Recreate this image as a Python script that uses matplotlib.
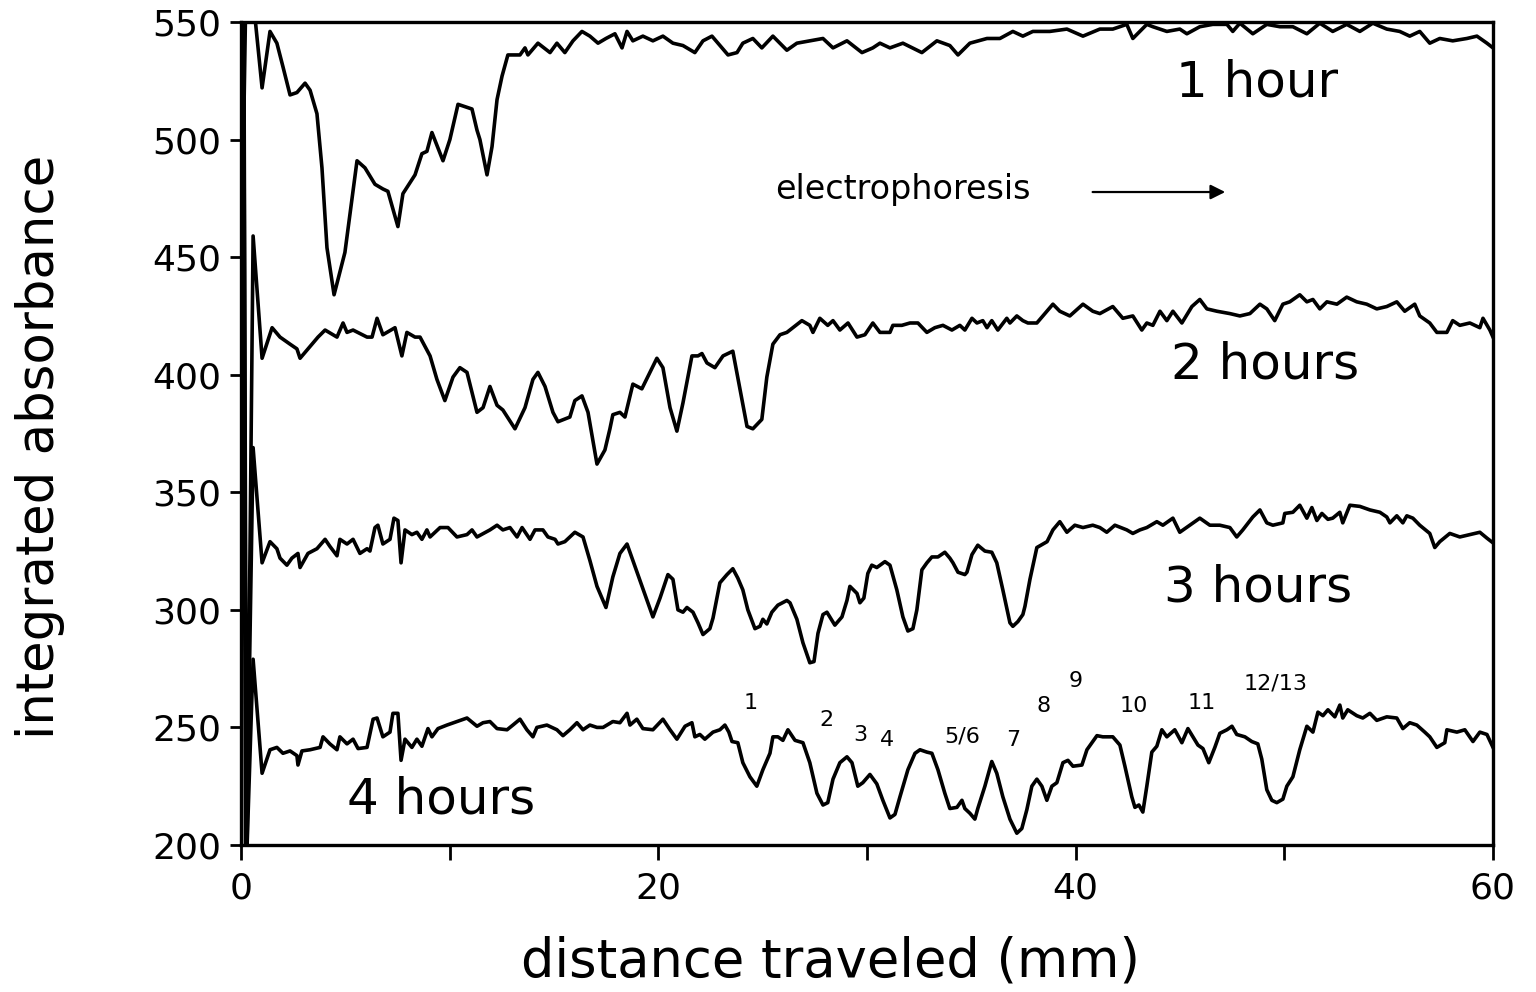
import matplotlib
matplotlib.use("Agg")
import matplotlib.pyplot as plt

# ---- scan data: distance traveled (mm) vs integrated absorbance ----
x_1h = [0.0, 0.12, 0.3, 0.55, 0.67, 1.01, 1.39, 1.72, 2.01, 2.35, 2.68, 3.07, 3.31, 3.64, 3.88, 4.12,
        4.46, 4.98, 5.56, 5.94, 6.42, 6.80, 7.04, 7.52, 7.76, 8.34, 8.67, 8.91, 9.15, 9.68, 10.01,
        10.40, 11.07, 11.31, 11.45, 11.79, 12.03, 12.27, 12.51, 12.79, 13.37, 13.61, 13.75, 14.23,
        14.81, 15.14, 15.52, 15.91, 16.34, 16.72, 17.11, 17.49, 17.92, 18.26, 18.50, 18.78, 19.26,
        19.74, 20.22, 20.70, 21.18, 21.75, 22.14, 22.57, 22.86, 23.34, 23.77, 24.05, 24.53, 24.96,
        25.49, 26.16, 26.64, 27.26, 27.89, 28.37, 29.04, 29.76, 30.28, 30.62, 31.10, 31.72, 32.63,
        33.35, 33.97, 34.36, 34.93, 35.75, 36.37, 36.99, 37.47, 37.95, 38.76, 39.58, 40.35, 41.16,
        41.78, 42.45, 42.74, 43.41, 43.70, 44.37, 44.99, 45.33, 45.95, 46.57, 47.25, 47.53, 47.87,
        48.49, 49.16, 49.79, 50.41, 51.08, 51.70, 52.32, 52.99, 53.62, 54.24, 54.91, 55.53, 56.01,
        56.49, 56.97, 57.45, 58.07, 58.75, 59.23, 59.71, 60.0]
y_1h = [492, 500, 600, 600, 552, 522, 546, 541, 531, 519, 520, 524, 521, 511, 488, 454,
        434, 452, 491, 488, 481, 479, 478, 463, 477, 485, 494, 495, 503, 491, 500,
        515, 513, 504, 500, 485, 497, 517, 527, 536, 536, 539, 536, 541,
        537, 541, 537, 542, 546, 544, 541, 543, 545, 539, 546, 542, 544,
        542, 544, 541, 540, 537, 542, 544, 541, 536, 537, 541, 543, 539,
        544, 538, 541, 542, 543, 539, 542, 537, 539, 541, 539, 541, 537,
        542, 540, 536, 541, 543, 543, 546, 544, 546, 546, 547, 544, 547,
        547, 549, 543, 549, 548, 546, 547, 545, 548, 549, 549, 546, 549.5,
        545, 549, 548, 548, 545, 549.5, 546, 549, 546, 549.5, 547, 546, 544,
        546, 541, 543, 542, 543, 544, 541, 539]

x_2h = [0.0, 0.12, 0.27, 0.58, 1.01, 1.49, 1.87, 2.35, 2.68, 2.83, 3.21, 3.69, 4.03, 4.60, 4.89, 5.08,
        5.37, 6.04, 6.28, 6.52, 6.80, 7.38, 7.71, 7.95, 8.34, 8.58, 9.06, 9.39, 9.77, 10.16, 10.49,
        10.83, 11.31, 11.60, 11.93, 12.27, 12.55, 13.13, 13.61, 13.99, 14.23, 14.57, 14.95, 15.19,
        15.76, 16.00, 16.34, 16.63, 17.06, 17.44, 17.68, 17.82, 18.16, 18.40, 18.78, 19.21, 19.93,
        20.22, 20.56, 20.89, 21.18, 21.61, 21.90, 22.09, 22.33, 22.71, 23.10, 23.57, 23.91, 24.25,
        24.53, 24.96, 25.20, 25.49, 25.83, 26.16, 26.45, 26.88, 27.26, 27.41, 27.74, 28.12, 28.37,
        28.70, 29.09, 29.52, 29.90, 30.28, 30.62, 31.10, 31.24, 31.67, 32.06, 32.44, 32.87, 33.25,
        33.64, 34.07, 34.45, 34.69, 35.03, 35.27, 35.55, 35.75, 35.98, 36.27, 36.70, 36.85, 37.18,
        37.47, 37.71, 38.14, 38.91, 39.24, 39.72, 40.35, 40.82, 41.16, 41.78, 42.26, 42.74, 43.17,
        43.41, 43.70, 44.04, 44.37, 44.66, 45.09, 45.57, 45.95, 46.29, 46.77, 47.39, 47.87, 48.35,
        48.83, 49.16, 49.54, 49.93, 50.26, 50.74, 51.08, 51.37, 51.70, 52.04, 52.52, 52.99, 53.47,
        53.95, 54.43, 54.91, 55.39, 55.77, 56.25, 56.49, 56.97, 57.31, 57.79, 58.07, 58.41, 58.89,
        59.37, 59.52, 59.85, 60.0]
y_2h = [470, 600, 180, 459, 407, 420, 416, 413, 411, 407, 411, 416, 419, 416, 422, 418,
        419, 416, 416, 424, 417, 420, 408, 418, 416, 416, 408, 398, 389, 399, 403,
        401, 384, 386, 395, 387, 385, 377, 386, 398, 401, 395, 384, 380,
        382, 389, 391, 384, 362, 368, 377, 383, 384, 382, 396, 394, 407,
        403, 386, 376, 388, 408, 408, 409, 405, 403, 408, 410, 394, 378,
        377, 381, 399, 413, 417, 418, 420, 423, 421, 418, 424, 421, 423,
        419, 422, 416, 417, 422, 418, 418, 421, 421, 422, 422, 418, 420,
        421, 419, 421, 419, 424, 422, 423, 420, 423, 419, 424, 422, 425,
        423, 422, 422, 430, 427, 425, 430, 427, 426, 429, 424, 425, 419,
        422, 421, 427, 423, 427, 422, 429, 432, 428, 427, 426, 425, 426,
        430, 428, 423, 430, 431, 434, 431, 432, 428, 431, 430, 433, 431,
        430, 428, 429, 431, 427, 430, 425, 422, 418, 418, 423, 421, 422,
        420, 424, 419, 416]

x_3h = [0.0, 0.12, 0.25, 0.58, 1.01, 1.39, 1.72, 1.87, 2.20, 2.44, 2.73, 2.83, 3.21, 3.64, 4.03, 4.26,
        4.60, 4.74, 5.08, 5.37, 5.70, 6.04, 6.18, 6.42, 6.56, 6.80, 7.14, 7.33, 7.52, 7.67, 7.86,
        8.19, 8.43, 8.67, 8.91, 9.06, 9.54, 9.92, 10.35, 10.83, 11.07, 11.31, 11.93, 12.27, 12.55,
        12.89, 13.23, 13.47, 13.85, 14.09, 14.47, 14.71, 15.05, 15.19, 15.52, 15.76, 16.00, 16.39,
        16.72, 17.06, 17.49, 17.82, 18.16, 18.50, 18.78, 19.26, 19.74, 20.08, 20.46, 20.70, 20.94,
        21.18, 21.37, 21.66, 21.90, 22.14, 22.47, 22.62, 22.95, 23.29, 23.57, 23.81, 24.05, 24.29,
        24.63, 24.87, 25.01, 25.20, 25.44, 25.73, 26.16, 26.31, 26.64, 26.93, 27.26, 27.46, 27.65,
        27.89, 28.08, 28.46, 28.80, 29.04, 29.18, 29.52, 29.66, 29.85, 30.04, 30.23, 30.47, 30.86,
        31.10, 31.43, 31.72, 31.96, 32.20, 32.39, 32.63, 32.87, 33.11, 33.40, 33.73, 33.97, 34.12,
        34.36, 34.69, 34.79, 35.03, 35.31, 35.65, 35.98, 36.22, 36.51, 36.85, 36.99, 37.23, 37.47,
        37.57, 37.81, 38.14, 38.63, 38.91, 39.24, 39.58, 39.96, 40.35, 40.82, 41.16, 41.49, 41.88,
        42.45, 42.74, 43.08, 43.41, 43.89, 44.18, 44.66, 44.99, 45.47, 45.95, 46.43, 46.91, 47.39,
        47.72, 48.01, 48.49, 48.83, 49.16, 49.45, 49.93, 50.02, 50.41, 50.74, 51.08, 51.32, 51.56,
        51.80, 52.09, 52.32, 52.66, 52.80, 53.14, 53.62, 54.10, 54.58, 54.91, 55.06, 55.39, 55.68,
        55.87, 56.16, 56.49, 56.97, 57.21, 57.45, 57.93, 58.41, 58.89, 59.37, 59.71, 60.0]
y_3h = [340, 580, 190, 369, 320, 329, 326, 322, 319, 322, 324, 318, 324, 326, 330, 327,
        323, 330, 328, 330, 324, 326, 325, 335, 336, 328, 330, 339, 338, 320, 334,
        332, 333, 330, 334, 331, 335, 335, 331, 332, 334, 331, 334, 336, 334,
        335, 331, 335, 330, 334, 334, 331, 330, 328, 329, 331, 333, 331,
        321, 310, 301, 314, 324, 328, 321, 309, 297, 305, 315, 313, 300,
        299, 301, 299, 294.5, 289.5, 292, 296.5, 311.5, 315, 317.5, 313.5, 308.5, 300,
        292, 293, 296, 294, 299, 302, 304, 303, 296, 286, 277.5, 278, 290,
        298, 299, 293.5, 297, 304, 310, 307, 303, 305, 315.5, 319, 318, 320.5,
        319, 308.5, 297, 291, 292, 300, 317, 320, 322.5, 322.5, 324.5, 322, 320,
        316, 315, 316, 323.5, 327.5, 325, 324.5, 320, 308.5, 294.5, 293, 295, 298,
        301.5, 313, 326.5, 329, 334, 337.5, 333, 336, 335, 336, 335, 333, 336,
        334, 332.5, 334, 335, 337.5, 336, 339, 333, 336, 339, 336, 336, 335,
        331, 334, 339.5, 342.5, 337, 336, 337, 341, 341.5, 344.5, 339, 343.5, 338,
        341, 338.5, 339, 341.5, 337, 344.5, 344, 342.5, 341.5, 339.5, 337, 340, 337,
        340, 339, 336, 332.5, 326.5, 329, 332.5, 331, 332, 333, 330.5, 328.5]

x_4h = [0.0, 0.10, 0.22, 0.58, 1.01, 1.39, 1.72, 2.01, 2.35, 2.68, 2.73, 2.92, 3.31, 3.79, 3.93, 4.26,
        4.60, 4.74, 5.08, 5.37, 5.61, 6.04, 6.33, 6.52, 6.80, 7.14, 7.28, 7.52, 7.67, 7.86, 8.19,
        8.43, 8.67, 8.96, 9.15, 9.44, 9.87, 10.35, 10.83, 11.31, 11.60, 11.93, 12.27, 12.75, 13.03,
        13.37, 13.70, 13.99, 14.18, 14.66, 15.14, 15.43, 15.76, 16.10, 16.39, 16.72, 17.06, 17.35,
        17.82, 18.16, 18.50, 18.64, 18.97, 19.26, 19.74, 20.22, 20.56, 20.89, 21.28, 21.61, 21.75,
        21.99, 22.23, 22.62, 22.95, 23.19, 23.38, 23.53, 23.81, 24.05, 24.39, 24.72, 25.01, 25.35,
        25.49, 25.73, 25.97, 26.21, 26.55, 26.93, 27.26, 27.60, 27.89, 28.12, 28.37, 28.70, 29.04,
        29.28, 29.56, 29.80, 30.14, 30.47, 30.76, 31.10, 31.34, 31.58, 31.96, 32.30, 32.54, 32.87,
        33.11, 33.40, 33.73, 33.97, 34.31, 34.55, 34.69, 34.93, 35.17, 35.31, 35.65, 35.98, 36.22,
        36.51, 36.85, 37.18, 37.42, 37.66, 37.90, 38.14, 38.38, 38.62, 38.86, 39.10, 39.39, 39.63,
        39.87, 40.30, 40.54, 41.02, 41.30, 41.78, 42.12, 42.36, 42.69, 42.84, 43.03, 43.22, 43.41,
        43.65, 43.89, 44.13, 44.37, 44.75, 45.09, 45.38, 45.62, 45.86, 46.10, 46.38, 46.67, 46.91,
        47.25, 47.49, 47.72, 48.11, 48.44, 48.73, 48.92, 49.16, 49.40, 49.64, 49.93, 50.12, 50.41,
        50.74, 51.08, 51.37, 51.61, 51.85, 52.09, 52.42, 52.66, 52.80, 53.04, 53.47, 53.76, 54.10,
        54.43, 54.91, 55.39, 55.68, 56.01, 56.35, 56.73, 56.97, 57.31, 57.69, 57.79, 58.27, 58.65,
        59.04, 59.37, 59.71, 60.0]
y_4h = [250, 570, 180, 279, 230.5, 240.5, 241.5, 239, 240, 238, 234, 240, 240.5, 241.5, 246, 243,
        240.5, 246, 243, 245, 241, 241.5, 253.5, 254, 246, 248, 256, 256, 236, 245, 241.5,
        245, 242, 249.5, 246, 249.5, 251, 252.5, 254, 250.5, 252, 252.5, 249.5, 249, 251,
        253.5, 249, 246, 250, 251, 249, 246.5, 249, 252, 249, 251, 250, 250,
        252.5, 252, 256, 251, 253.5, 249.5, 249, 253.5, 249, 245, 250.5, 252, 246,
        247, 245, 248, 249, 251, 248, 244, 243.5, 235, 229, 225, 232, 239,
        246, 246, 244.5, 249, 244.5, 243.5, 235, 222, 217, 218, 228, 235, 237.5,
        235, 225, 226.5, 230, 226, 219, 211.5, 213, 220.5, 232, 239, 240.5, 239.5,
        239, 232, 222, 215.5, 216, 219, 215.5, 213.5, 211, 215.5, 225, 235.5, 230.5,
        220.5, 211, 205, 207, 215, 225, 228, 225, 219, 225, 226.5, 235, 236,
        233.5, 234, 240.5, 246.5, 246, 246, 242.5, 233.5, 220.5, 216, 217, 214, 225,
        239.5, 242, 249, 246, 249, 243.5, 249.5, 246, 242.5, 241, 235, 241.5, 247.5,
        249, 250.5, 247, 246, 244, 243, 236.5, 223.5, 219, 218, 219.5, 225, 229,
        240.5, 250.5, 248, 256.5, 255, 257.5, 254.5, 259.5, 254, 257.5, 255, 254, 256,
        253, 254.5, 254, 249.5, 252, 251, 248, 246, 241.5, 243.5, 249, 248, 249,
        244, 248, 247, 241.5]

traces = [(x_1h, y_1h), (x_2h, y_2h), (x_3h, y_3h), (x_4h, y_4h)]

# ---- annotations ----
trace_labels = ["1 hour", "2 hours", "3 hours", "4 hours"]
trace_label_x = [48.68, 49.07, 48.73, 9.58]
trace_label_y = [524.1, 404.2, 309.4, 219.2]

band_labels = ["1", "2", "3", "4", "5/6", "7", "8", "9", "10", "11", "12/13"]
band_x = [24.44, 28.08, 29.66, 30.95, 34.55, 36.99, 38.48, 40.0, 42.79, 46.05, 49.59]
band_y = [260.5, 253.2, 246.9, 244.7, 246.0, 244.7, 259.2, 269.8, 259.2, 260.5, 268.5]

x_ticks = [0, 20, 40, 60]
x_minor = [10, 30, 50]
y_ticks = [200, 250, 300, 350, 400, 450, 500, 550]

FONT = "DejaVu Sans"

fig = plt.figure(figsize=(15.36, 9.92), dpi=100)
ax = fig.add_axes([0.1569, 0.1482, 0.972 - 0.1569, 0.9778 - 0.1482])

for xs, ys in traces:
    ax.plot(xs, ys, color="black", lw=2.6, solid_joinstyle="round")

ax.set_xlim(0, 60)
ax.set_ylim(200, 550)

ax.set_xticks(x_ticks)
ax.set_xticks(x_minor, minor=True)
ax.set_yticks(y_ticks)
ax.tick_params(axis="x", which="both", direction="out", length=11, width=2.0,
               labelsize=26, pad=8)
ax.tick_params(axis="y", which="major", direction="out", length=8, width=2.0,
               labelsize=26, pad=6)
for lab in ax.get_xticklabels() + ax.get_yticklabels():
    lab.set_fontfamily(FONT)

for sp in ax.spines.values():
    sp.set_linewidth(2.4)

ax.set_xlabel("distance traveled (mm)", fontsize=38, fontfamily=FONT)
ax.set_ylabel("integrated absorbance", fontsize=37, fontfamily=FONT)
ax.xaxis.label.set_va("center")
ax.yaxis.label.set_va("center")
ax.xaxis.set_label_coords(0.471, -0.142)
ax.yaxis.set_label_coords(-0.1605, 0.484)

for t, tx, ty in zip(trace_labels, trace_label_x, trace_label_y):
    ax.text(tx, ty, t, fontsize=36, fontfamily=FONT, ha="center", va="center")

for t, tx, ty in zip(band_labels, band_x, band_y):
    ax.text(tx, ty, t, fontsize=16, fontfamily=FONT, ha="center", va="center")

ax.text(31.72, 478.6, "electrophoresis", fontsize=24, fontfamily=FONT,
        ha="center", va="center")
ax.annotate("", xy=(47.3, 477.7), xytext=(40.68, 477.7),
            arrowprops=dict(arrowstyle="-|>", color="black", lw=1.6, mutation_scale=22))

fig.savefig("out.png", dpi=100)
